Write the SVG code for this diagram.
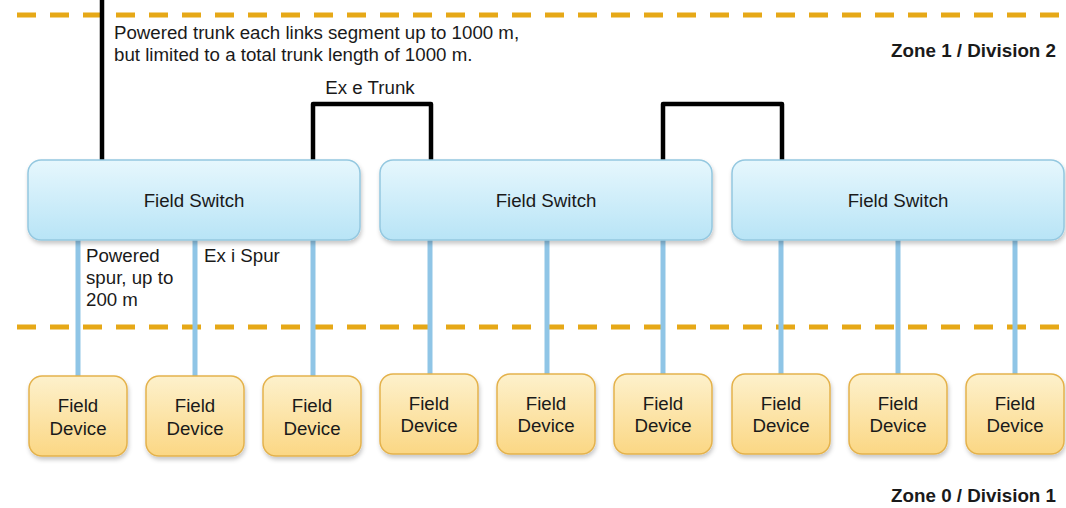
<svg xmlns="http://www.w3.org/2000/svg" width="1066" height="508" viewBox="0 0 1066 508">
<defs>
<linearGradient id="gSw" x1="0" y1="0" x2="0" y2="1">
<stop offset="0" stop-color="#e6f7fd"/>
<stop offset="1" stop-color="#b8e4f6"/>
</linearGradient>
<linearGradient id="gDev" x1="0" y1="0" x2="0" y2="1">
<stop offset="0" stop-color="#fdf1cc"/>
<stop offset="1" stop-color="#fbd784"/>
</linearGradient>
<filter id="sh" x="-10%" y="-10%" width="125%" height="130%">
<feDropShadow dx="1" dy="3" stdDeviation="2" flood-color="#000" flood-opacity="0.22"/>
</filter>
</defs>
<style>
text{font-family:"Liberation Sans",Arial,sans-serif;fill:#1a1a1a}
.zone{stroke:#e6a817;stroke-width:5;stroke-dasharray:19 14;fill:none}
.trunk{stroke:#000;stroke-width:4.5;fill:none;stroke-linejoin:round}
.spur{stroke:#8fc5e6;stroke-width:5;fill:none}
.sw{fill:url(#gSw);stroke:#94c8e0;stroke-width:1.5;filter:url(#sh)}
.dev{fill:url(#gDev);stroke:#e4b24c;stroke-width:1.5;filter:url(#sh)}
.swt{font-size:18.7px;text-anchor:middle}
.dvt{font-size:18.7px;text-anchor:middle}
.lbl{font-size:18.7px}
.zl{font-size:18.8px;font-weight:bold;text-anchor:end}
</style>
<rect width="1066" height="508" fill="#fff"/>
<g id="zones">
<line class="zone" x1="17" y1="15" x2="1060" y2="15"/>
<line class="zone" x1="17" y1="327" x2="1060" y2="327"/>
</g>
<g id="connectors">
<line class="trunk" x1="102" y1="0" x2="102" y2="162"/>
<polyline class="trunk" points="313,162 313,104 431,104 431,162"/>
<polyline class="trunk" points="663,162 663,104 782,104 782,162"/>
<line class="spur" x1="78" y1="238" x2="78" y2="377"/>
<line class="spur" x1="195" y1="238" x2="195" y2="377"/>
<line class="spur" x1="313" y1="238" x2="313" y2="377"/>
<line class="spur" x1="430" y1="238" x2="430" y2="375"/>
<line class="spur" x1="547" y1="238" x2="547" y2="375"/>
<line class="spur" x1="663" y1="238" x2="663" y2="375"/>
<line class="spur" x1="781" y1="238" x2="781" y2="375"/>
<line class="spur" x1="898" y1="238" x2="898" y2="375"/>
<line class="spur" x1="1015" y1="238" x2="1015" y2="375"/>
</g>
<g id="switch1"><rect class="sw" x="28" y="160" width="332" height="80" rx="13"/><text class="swt" x="194" y="207">Field Switch</text></g>
<g id="switch2"><rect class="sw" x="380" y="160" width="332" height="80" rx="13"/><text class="swt" x="546" y="207">Field Switch</text></g>
<g id="switch3"><rect class="sw" x="732" y="160" width="332" height="80" rx="13"/><text class="swt" x="898" y="207">Field Switch</text></g>
<g id="dev1"><rect class="dev" x="29" y="376" width="98" height="80" rx="13"/><text class="dvt" x="78" y="412">Field</text><text class="dvt" x="78" y="435">Device</text></g>
<g id="dev2"><rect class="dev" x="146" y="376" width="98" height="80" rx="13"/><text class="dvt" x="195" y="412">Field</text><text class="dvt" x="195" y="435">Device</text></g>
<g id="dev3"><rect class="dev" x="263" y="376" width="98" height="80" rx="13"/><text class="dvt" x="312" y="412">Field</text><text class="dvt" x="312" y="435">Device</text></g>
<g id="dev4"><rect class="dev" x="380" y="374" width="98" height="80" rx="13"/><text class="dvt" x="429" y="410">Field</text><text class="dvt" x="429" y="432">Device</text></g>
<g id="dev5"><rect class="dev" x="497" y="374" width="98" height="80" rx="13"/><text class="dvt" x="546" y="410">Field</text><text class="dvt" x="546" y="432">Device</text></g>
<g id="dev6"><rect class="dev" x="614" y="374" width="98" height="80" rx="13"/><text class="dvt" x="663" y="410">Field</text><text class="dvt" x="663" y="432">Device</text></g>
<g id="dev7"><rect class="dev" x="732" y="374" width="98" height="80" rx="13"/><text class="dvt" x="781" y="410">Field</text><text class="dvt" x="781" y="432">Device</text></g>
<g id="dev8"><rect class="dev" x="849" y="374" width="98" height="80" rx="13"/><text class="dvt" x="898" y="410">Field</text><text class="dvt" x="898" y="432">Device</text></g>
<g id="dev9"><rect class="dev" x="966" y="374" width="98" height="80" rx="13"/><text class="dvt" x="1015" y="410">Field</text><text class="dvt" x="1015" y="432">Device</text></g>
<g id="labels">
<text class="lbl" x="114" y="39">Powered trunk each links segment up to 1000 m,</text>
<text class="lbl" x="114" y="61">but limited to a total trunk length of 1000 m.</text>
<text class="lbl" x="370" y="94" text-anchor="middle">Ex e Trunk</text>
<text class="lbl" x="86" y="262">Powered</text>
<text class="lbl" x="86" y="284">spur, up to</text>
<text class="lbl" x="86" y="306">200 m</text>
<text class="lbl" x="204" y="262">Ex i Spur</text>
<text class="zl" x="1056" y="57">Zone 1 / Division 2</text>
<text class="zl" x="1056" y="502">Zone 0 / Division 1</text>
</g>
</svg>
